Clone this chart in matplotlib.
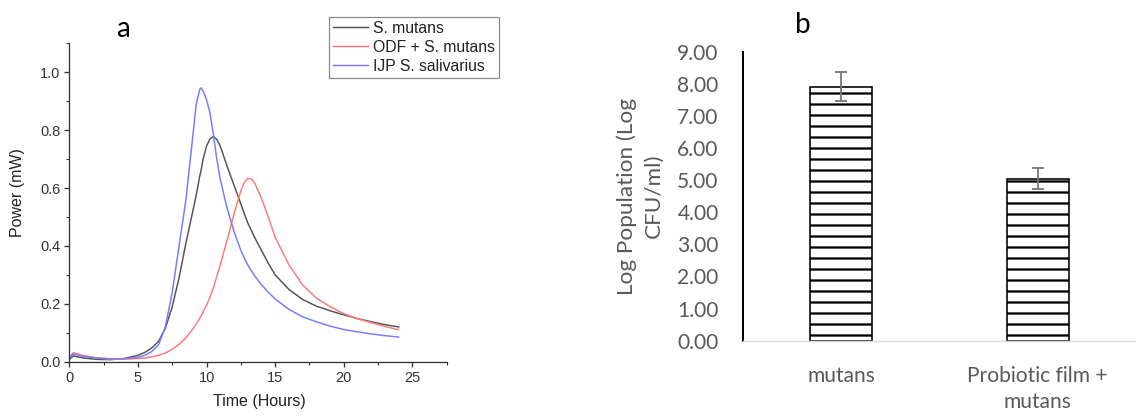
import matplotlib
matplotlib.use('Agg')
import matplotlib.pyplot as plt
from matplotlib.ticker import MultipleLocator, FormatStrFormatter

# Panel a - heat flow curves
hours = [0, 0.3, 1, 2, 3, 4, 5, 5.5, 6, 6.5, 7, 7.5, 8, 8.5, 9, 9.25, 9.5, 9.6, 9.75,
         10, 10.25, 10.5, 10.75, 11, 11.5, 12, 12.5, 12.75, 13, 13.25, 13.5, 14, 14.5, 15,
         16, 17, 18, 19, 20, 21, 22, 23, 24]
power_mutans = [0.008, 0.02, 0.013, 0.008, 0.007, 0.011, 0.022, 0.032, 0.047, 0.07,
                0.115, 0.19, 0.29, 0.41, 0.52, 0.575, 0.64, 0.66, 0.70, 0.745,
                0.77, 0.778, 0.768, 0.745, 0.675, 0.61, 0.545, 0.512, 0.48, 0.455, 0.43, 0.385,
                0.34, 0.30, 0.25, 0.215, 0.192, 0.176, 0.162, 0.149, 0.138, 0.128, 0.12]
power_odf = [0.015, 0.031, 0.022, 0.013, 0.009, 0.009, 0.011, 0.013, 0.017, 0.022,
             0.03, 0.043, 0.06, 0.082, 0.113, 0.13, 0.15, 0.158, 0.172, 0.195,
             0.222, 0.255, 0.295, 0.335, 0.42, 0.51, 0.59, 0.618, 0.633, 0.632, 0.618, 0.565,
             0.5, 0.43, 0.335, 0.265, 0.22, 0.19, 0.166, 0.148, 0.135, 0.122, 0.11]
power_ijp = [0.012, 0.027, 0.018, 0.013, 0.01, 0.01, 0.015, 0.022, 0.035, 0.058,
             0.12, 0.24, 0.40, 0.56, 0.78, 0.89, 0.94, 0.946, 0.935, 0.905,
             0.86, 0.785, 0.70, 0.63, 0.53, 0.45, 0.385, 0.358, 0.335, 0.315, 0.297, 0.266,
             0.24, 0.217, 0.181, 0.155, 0.138, 0.123, 0.111, 0.103, 0.096, 0.09, 0.085]
series_names = ['S. mutans', 'ODF + S. mutans', 'IJP S. salivarius']

# Panel b - bacterial counts
groups = ['mutans', 'Probiotic film +\nmutans']
log_pop = [7.91, 5.04]
log_err = [0.46, 0.33]

DPI = 66  # low dpi so the '-' hatch gets the right line spacing
fig = plt.figure(figsize=(1136 / DPI, 418 / DPI), dpi=DPI)
pt = 72 / DPI  # pixels -> points

# ---------- panel a ----------
arial = 'Liberation Sans'
ax1 = fig.add_axes([0.061, 0.1347, 0.3322, 0.7617])
ax1.plot(hours, power_mutans, color='#555555', lw=1.5 * pt, label=series_names[0])
ax1.plot(hours, power_odf, color='#ff7a7a', lw=1.5 * pt, label=series_names[1])
ax1.plot(hours, power_ijp, color='#7a7aff', lw=1.5 * pt, label=series_names[2])
ax1.set_xlim(0, 27.5)
ax1.set_ylim(0, 1.1)
ax1.xaxis.set_major_locator(MultipleLocator(5))
ax1.xaxis.set_minor_locator(MultipleLocator(2.5))
ax1.yaxis.set_major_locator(MultipleLocator(0.2))
ax1.yaxis.set_minor_locator(MultipleLocator(0.1))
ax1.yaxis.set_major_formatter(FormatStrFormatter('%.1f'))
for s in ['top', 'right']:
    ax1.spines[s].set_visible(False)
for s in ['left', 'bottom']:
    ax1.spines[s].set_color('#333333')
    ax1.spines[s].set_linewidth(1.3 * pt)
ax1.tick_params(which='major', length=5 * pt, width=1.3 * pt, color='#333333',
                labelsize=14.5 * pt, labelcolor='#333333', pad=4 * pt)
ax1.tick_params(which='minor', length=3 * pt, width=1.1 * pt, color='#333333')
for lab in ax1.get_xticklabels() + ax1.get_yticklabels():
    lab.set_family(arial)
ax1.set_xlabel('Time (Hours)', fontsize=16 * pt, family=arial, color='#222222')
ax1.set_ylabel('Power (mW)', fontsize=16 * pt, family=arial, color='#222222')
ax1.xaxis.set_label_coords(0.503, -0.1)
ax1.yaxis.set_label_coords(-0.117, 0.53)
leg = fig.legend(loc='upper left', bbox_to_anchor=(329.3 / 1136, 1 - 16.7 / 418),
                 prop={'family': arial, 'size': 15.8 * pt}, fancybox=False,
                 edgecolor='#888888', framealpha=1, borderpad=0.25,
                 labelspacing=0.25, handlelength=2.2, handletextpad=0.3,
                 borderaxespad=0)
leg.get_frame().set_linewidth(1.2 * pt)
for t in leg.get_texts():
    t.set_color('#222222')
fig.text(123 / 1136, 1 - 29 / 418, 'a', fontsize=28 * pt, family='Lato',
         ha='center', va='center')

# ---------- panel b ----------
plt.rcParams['hatch.linewidth'] = 2.3 * pt
ax2 = fig.add_axes([0.6538, 0.1849, 0.3462, 0.6914])
ax2.bar(range(len(groups)), log_pop, width=0.315, color='white', edgecolor='black',
        linewidth=1.6 * pt, hatch='-')
ax2.errorbar(range(len(groups)), log_pop, yerr=log_err, fmt='none',
             ecolor='#777777', elinewidth=1.8 * pt, capsize=6.5 * pt, capthick=1.8 * pt)
ax2.set_xlim(-0.5, 1.5)
ax2.set_ylim(0, 9)
ax2.set_yticks(range(10))
ax2.yaxis.set_major_formatter(FormatStrFormatter('%.2f'))
ax2.set_xticks(range(len(groups)))
ax2.set_xticklabels(groups, linespacing=1.4)
for s in ['top', 'right']:
    ax2.spines[s].set_visible(False)
ax2.spines['left'].set_color('black')
ax2.spines['left'].set_linewidth(2 * pt)
ax2.spines['bottom'].set_color('#d9d9d9')
ax2.spines['bottom'].set_linewidth(1.5 * pt)
ax2.tick_params(axis='both', length=0, labelsize=21 * pt, labelcolor='#595959')
ax2.tick_params(axis='y', pad=24 * pt)
ax2.tick_params(axis='x', pad=25 * pt)
for lab in ax2.get_xticklabels() + ax2.get_yticklabels():
    lab.set_family('Lato')
ax2.set_ylabel('Log Population (Log\nCFU/ml)', fontsize=22.5 * pt, family='Lato',
               color='#595959', linespacing=1.45)
ax2.yaxis.set_label_coords(-0.2, 0.5)
fig.text(803 / 1136, 1 - 25 / 418, 'b', fontsize=28 * pt, family='Lato',
         ha='center', va='center')

fig.savefig('out.png', dpi=DPI)
